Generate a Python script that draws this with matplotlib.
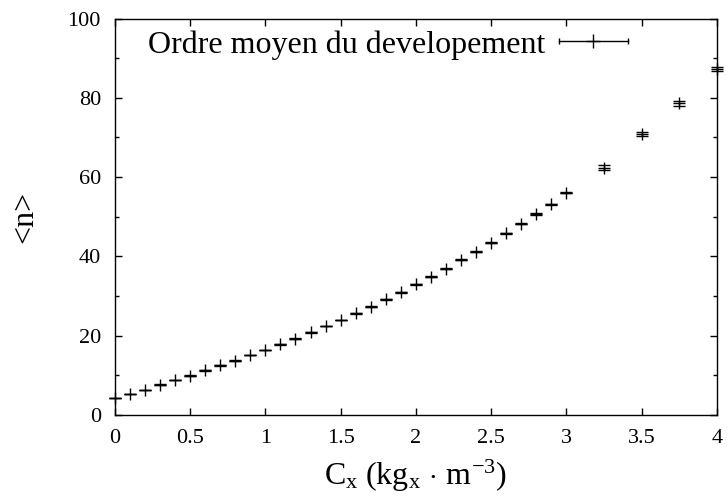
import matplotlib
matplotlib.use("Agg")
import matplotlib.pyplot as plt
from matplotlib.lines import Line2D
from matplotlib.legend_handler import HandlerLine2D, HandlerTuple
from matplotlib.ticker import MultipleLocator, FormatStrFormatter

# concentration C_x and mean expansion order <n>
cx = [0.0, 0.1, 0.2, 0.3, 0.4, 0.5, 0.6, 0.7, 0.8, 0.9,
      1.0, 1.1, 1.2, 1.3, 1.4, 1.5, 1.6, 1.7, 1.8, 1.9,
      2.0, 2.1, 2.2, 2.3, 2.4, 2.5, 2.6, 2.7, 2.8, 2.9,
      3.0, 3.25, 3.5, 3.75, 4.0]
n_mean = [4.3, 5.2, 6.3, 7.6, 8.8, 9.9, 11.2, 12.5, 13.7, 15.1,
          16.3, 17.8, 19.2, 20.8, 22.4, 23.9, 25.6, 27.3, 29.2, 30.9,
          32.9, 34.8, 36.9, 39.1, 41.1, 43.4, 45.8, 48.2, 50.7, 53.1,
          56.1, 62.4, 70.9, 78.6, 87.3]
n_err = [0.05, 0.05, 0.05, 0.05, 0.05, 0.06, 0.06, 0.06, 0.07, 0.07,
         0.07, 0.08, 0.08, 0.08, 0.09, 0.09, 0.10, 0.10, 0.10, 0.11,
         0.11, 0.12, 0.12, 0.13, 0.13, 0.14, 0.14, 0.15, 0.15, 0.16,
         0.17, 0.60, 0.55, 0.55, 0.60]

plt.rcParams['font.family'] = ['Liberation Serif', 'DejaVu Serif']
plt.rcParams['mathtext.fontset'] = 'custom'
plt.rcParams['mathtext.rm'] = 'Liberation Serif'
plt.rcParams['mathtext.it'] = 'Liberation Serif:italic'

fig = plt.figure(figsize=(7.27, 5.04), dpi=100)
ax = fig.add_axes([0.158, 0.177, 0.828, 0.786])

ax.errorbar(cx, n_mean, yerr=n_err, fmt='+', color='black', ms=8.6, mew=1.0,
            elinewidth=1.0, capsize=4.3, capthick=1.0, clip_on=False, zorder=3)

ax.set_xlim(0, 4)
ax.set_ylim(0, 100)
ax.xaxis.set_major_locator(MultipleLocator(0.5))
ax.xaxis.set_major_formatter(FormatStrFormatter('%g'))
ax.yaxis.set_major_locator(MultipleLocator(20))
ax.yaxis.set_minor_locator(MultipleLocator(10))
ax.tick_params(which='both', direction='in', top=True, right=True,
               labelsize=16, width=1.0)
ax.tick_params(axis='x', which='major', length=5, pad=10)
ax.tick_params(axis='y', which='major', length=5, pad=10)
ax.tick_params(which='minor', length=3)
for s in ax.spines.values():
    s.set_linewidth(1.0)

ax.set_xlabel(r'$\mathrm{C_x\ (kg_x\,\cdot\,m^{-3})}$', fontsize=23, labelpad=7)
ax.set_ylabel('<n>', fontsize=23, labelpad=20)

# key sample drawn gnuplot-style: bar with end ticks and a point in the middle
bar = Line2D([], [], color='black', lw=1.0, marker='|', ms=5, mew=1.0)
pt = Line2D([], [], ls='none', color='black', marker='+', ms=10, mew=1.0)
ax.legend([(bar, pt)], ['Ordre moyen du developement'],
          handler_map={bar: HandlerLine2D(numpoints=2),
                       pt: HandlerLine2D(numpoints=1),
                       tuple: HandlerTuple(ndivide=1, pad=0)},
          loc='center right', bbox_to_anchor=(0.868, 0.934),
          frameon=False, fontsize=23, markerfirst=False,
          handlelength=2.75, handletextpad=0.12, borderpad=0, borderaxespad=0)

fig.savefig('out.png', dpi=100)
